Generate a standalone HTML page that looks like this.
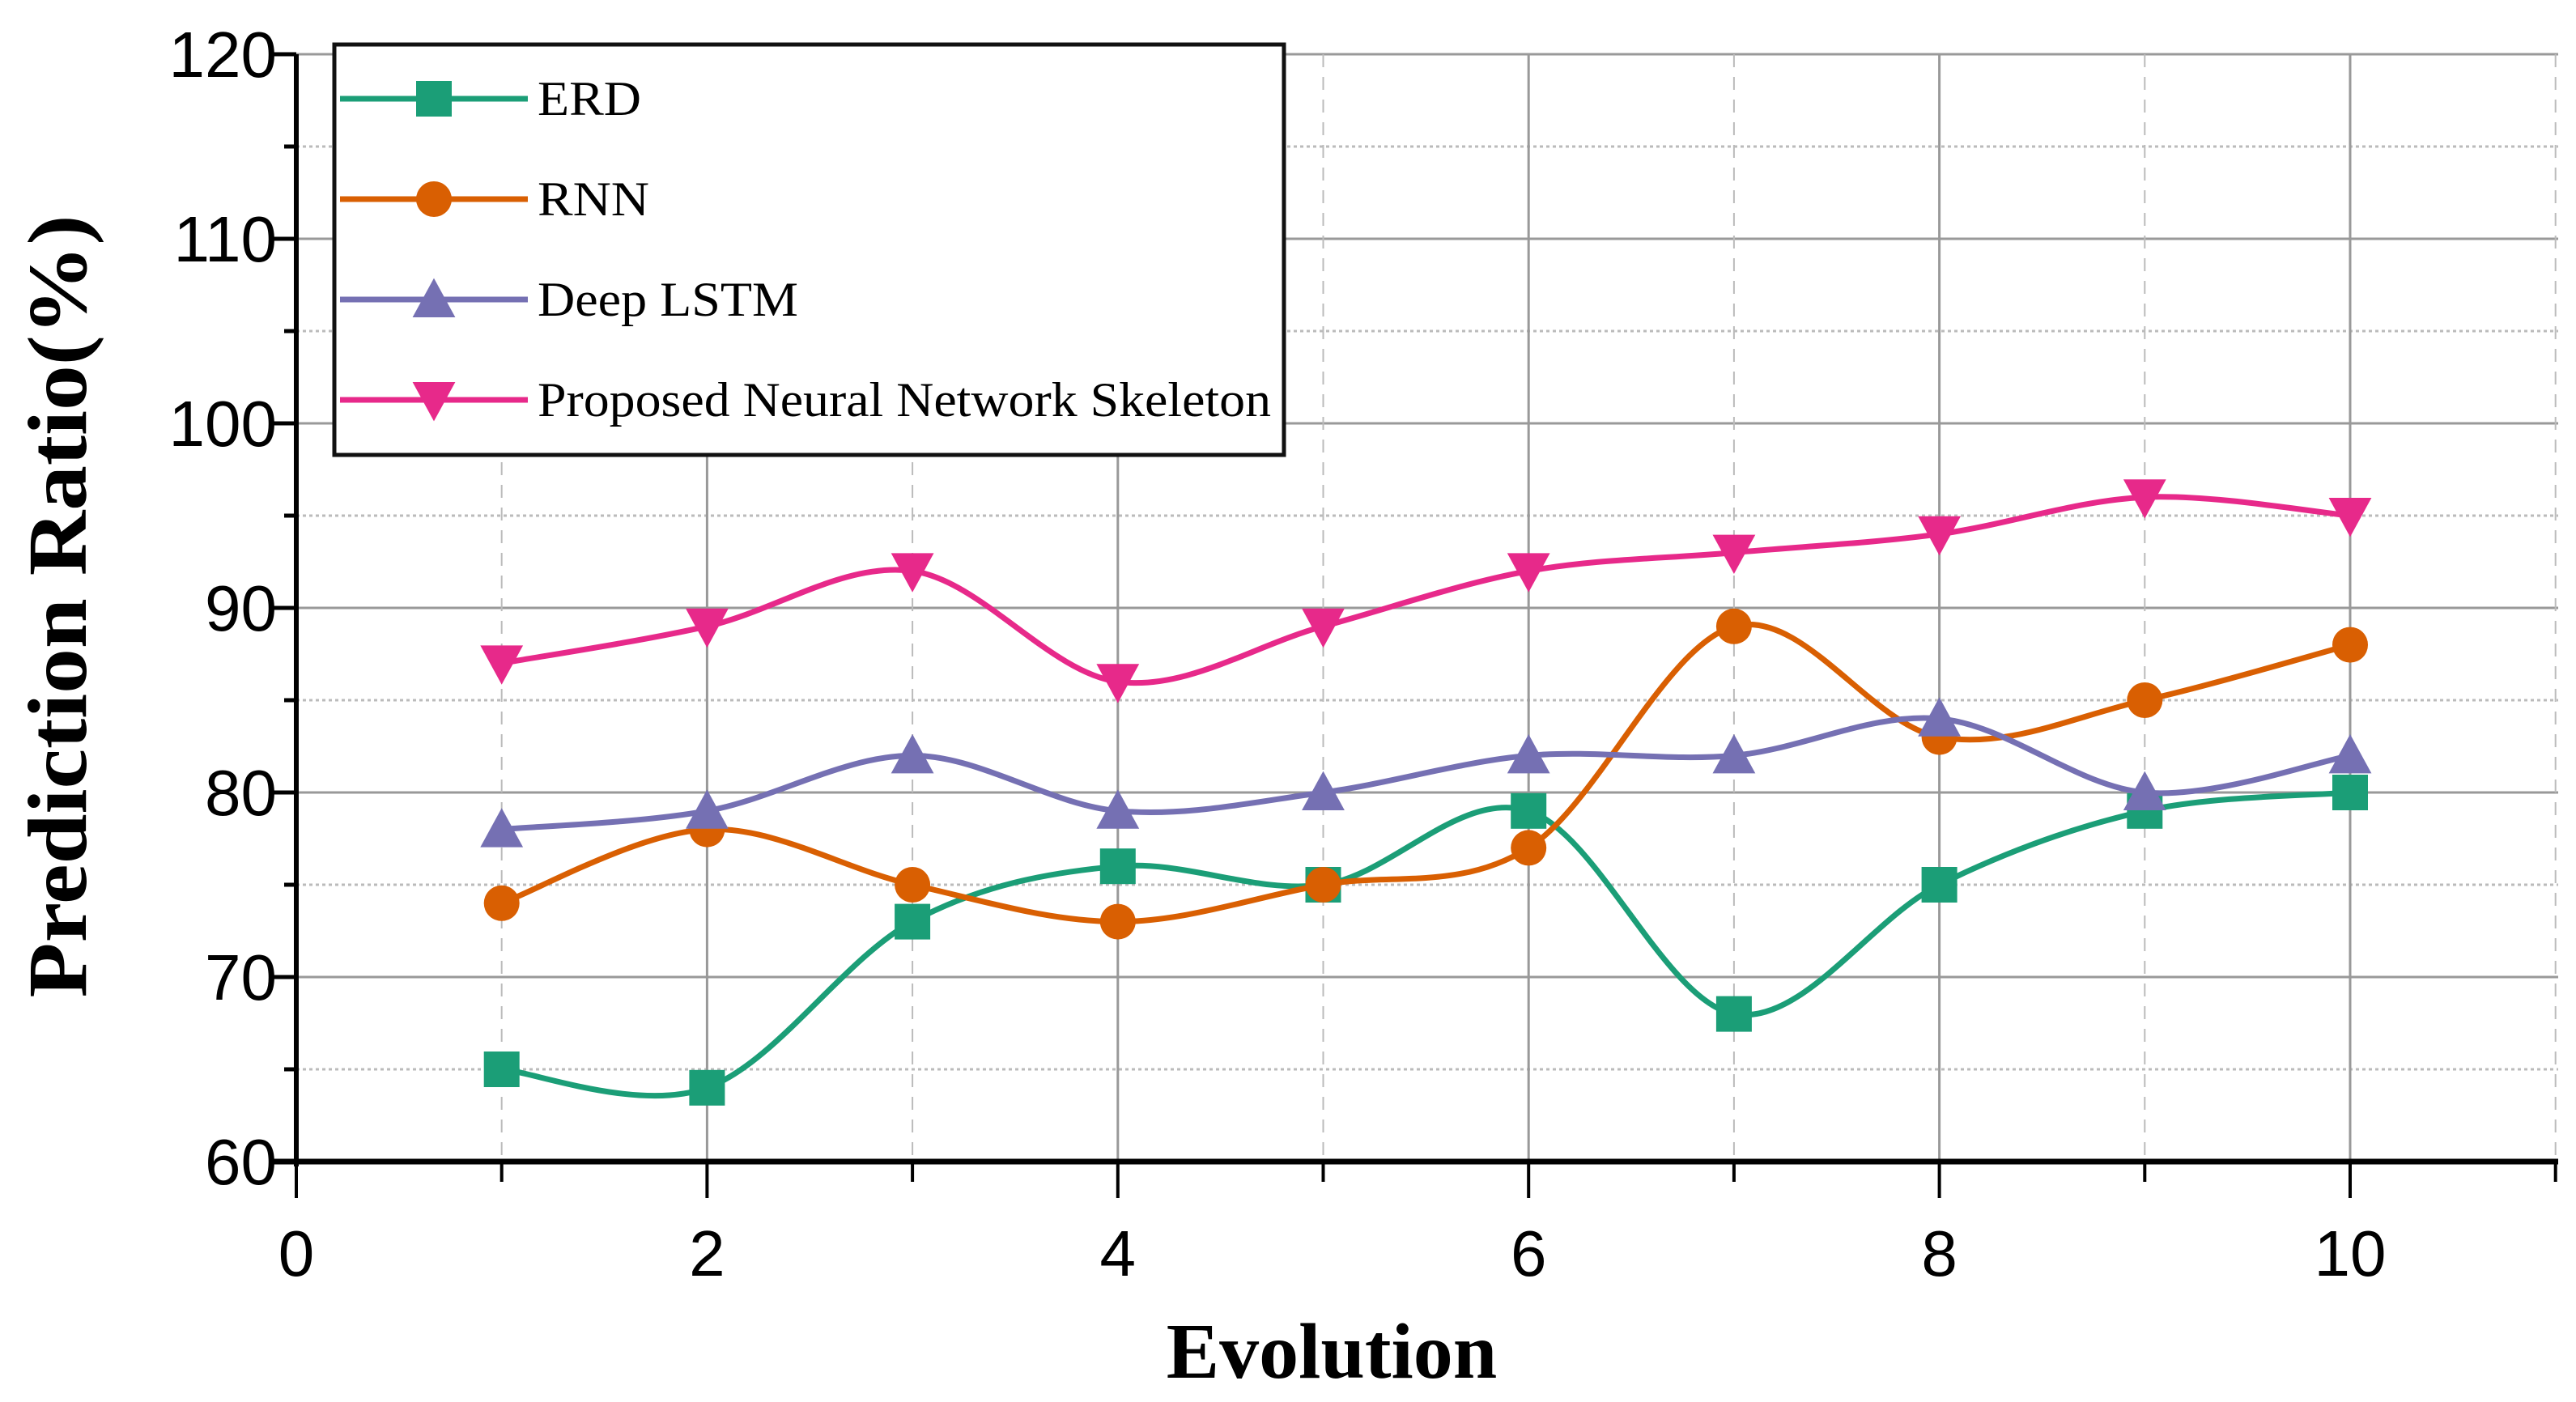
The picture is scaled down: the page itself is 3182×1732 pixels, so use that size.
<!DOCTYPE html>
<html><head><meta charset="utf-8"><style>html,body{margin:0;background:#fff}svg{display:block}</style></head>
<body>
<svg id="chart" width="3182" height="1732" xmlns="http://www.w3.org/2000/svg"></svg>
<script>
const xValues=[1,2,3,4,5,6,7,8,9,10];
const erd=[65,64,73,76,75,79,68,75,79,80];
const rnn=[74,78,75,73,75,77,89,83,85,88];
const lstm=[78,79,82,79,80,82,82,84,80,82];
const proposed=[87,89,92,86,89,92,93,94,96,95];
const seriesNames=["ERD","RNN","Deep LSTM","Proposed Neural Network Skeleton"];
const yTicks=[60,70,80,90,100,110,120];
const xTicks=[0,2,4,6,8,10];

const NS="http://www.w3.org/2000/svg";
const svg=document.getElementById('chart');
const L=366,R=3160,T=67,B=1435;
const X=v=>L+(v-0)*(2903-L)/10;
const Y=v=>B-(v-60)*(B-T)/60;
function el(t,a,p){const e=document.createElementNS(NS,t);for(const k in a)e.setAttribute(k,a[k]);(p||svg).appendChild(e);return e;}

for(let v=65;v<120;v+=10){const g=el('line',{x1:L,x2:R,y1:Y(v),y2:Y(v),stroke:'#bbb','stroke-width':3,'stroke-dasharray':'4 4'});
}
for(let v=70;v<=120;v+=10){const g=el('line',{x1:L,x2:R,y1:Y(v),y2:Y(v),stroke:'#999','stroke-width':3});
}
for(let v=1;v<=11;v++){const major=v%2===0;const g=el('line',{x1:X(v),x2:X(v),y1:T,y2:B,stroke:major?'#999':'#bbb','stroke-width':major?3:2,'stroke-dasharray':major?'none':'16 12'});
}

const ax=el('g',{});
el('line',{x1:L,x2:L,y1:T,y2:B+6,stroke:'#000','stroke-width':6},ax);
el('line',{x1:L-30,x2:R,y1:B,y2:B,stroke:'#000','stroke-width':7},ax);
for(let v=60;v<=120;v+=5){const maj=v%10===0;el('line',{x1:L-(maj?30:15),x2:L,y1:Y(v),y2:Y(v),stroke:'#000','stroke-width':5},ax);}
for(let v=0;v<=11;v++){const maj=v%2===0;el('line',{x1:X(v),x2:X(v),y1:B,y2:B+(maj?45:25),stroke:'#000','stroke-width':4},ax);}
yTicks.forEach(v=>{const t=el('text',{x:342,y:Y(v)+28,'text-anchor':'end','font-family':'Liberation Sans, sans-serif','font-size':80});t.textContent=v;
});
xTicks.forEach(v=>{const t=el('text',{x:X(v),y:1576,'text-anchor':'middle','font-family':'Liberation Sans, sans-serif','font-size':80});t.textContent=v;
});
const xt=el('text',{x:1645,y:1702,'text-anchor':'middle','font-family':'Liberation Serif, serif','font-size':98,'font-weight':'bold'});xt.textContent='Evolution';

const yt=el('text',{x:0,y:0,'text-anchor':'middle','font-family':'Liberation Serif, serif','font-size':104,'font-weight':'bold',textLength:967,lengthAdjust:'spacingAndGlyphs',transform:'translate(106,749) rotate(-90)'});yt.textContent='Prediction Ratio(%)';


const colors=['#1b9e77','#d95f02','#7570b3','#e7298a'];
const datas=[erd,rnn,lstm,proposed];
function smooth(pts){let d=`M${pts[0][0]},${pts[0][1]}`;for(let i=0;i<pts.length-1;i++){const p0=pts[i-1]||pts[i],p1=pts[i],p2=pts[i+1],p3=pts[i+2]||p2;
const c1=[p1[0]+(p2[0]-p0[0])/6,p1[1]+(p2[1]-p0[1])/6],c2=[p2[0]-(p3[0]-p1[0])/6,p2[1]-(p3[1]-p1[1])/6];d+=` C${c1[0]},${c1[1]} ${c2[0]},${c2[1]} ${p2[0]},${p2[1]}`;}return d;}
function marker(k,cx,cy,c,g){const s=22;
if(k===0)return el('rect',{x:cx-s,y:cy-s,width:2*s,height:2*s,fill:c},g);
if(k===1)return el('circle',{cx,cy,r:s,fill:c},g);
if(k===2)return el('polygon',{points:`${cx},${cy-s*1.2} ${cx-s*1.2},${cy+s} ${cx+s*1.2},${cy+s}`,fill:c},g);
return el('polygon',{points:`${cx},${cy+s*1.2} ${cx-s*1.2},${cy-s} ${cx+s*1.2},${cy-s}`,fill:c},g);}
datas.forEach((d,k)=>{const g=el('g',{});
const pts=d.map((v,i)=>[X(xValues[i]),Y(v)]);
const p=el('path',{d:smooth(pts),fill:'none',stroke:colors[k],'stroke-width':7},g);
pts.forEach(pt=>{const m=marker(k,pt[0],pt[1],colors[k],g);});});

const lg=el('g',{});
el('rect',{x:413,y:55,width:1173,height:507,fill:'#fff',stroke:'#111','stroke-width':5},lg);
const lw=[128,138,322,906];
seriesNames.forEach((n,k)=>{const y=122+k*124;const e=el('g',{},lg);
el('line',{x1:420,x2:652,y1:y,y2:y,stroke:colors[k],'stroke-width':7},e);marker(k,536,y,colors[k],e);
const t=el('text',{x:664,y:y+20,'font-family':'Liberation Serif, serif','font-size':60,textLength:lw[k],lengthAdjust:'spacingAndGlyphs'},e);t.textContent=n;});
</script>
</body></html>
